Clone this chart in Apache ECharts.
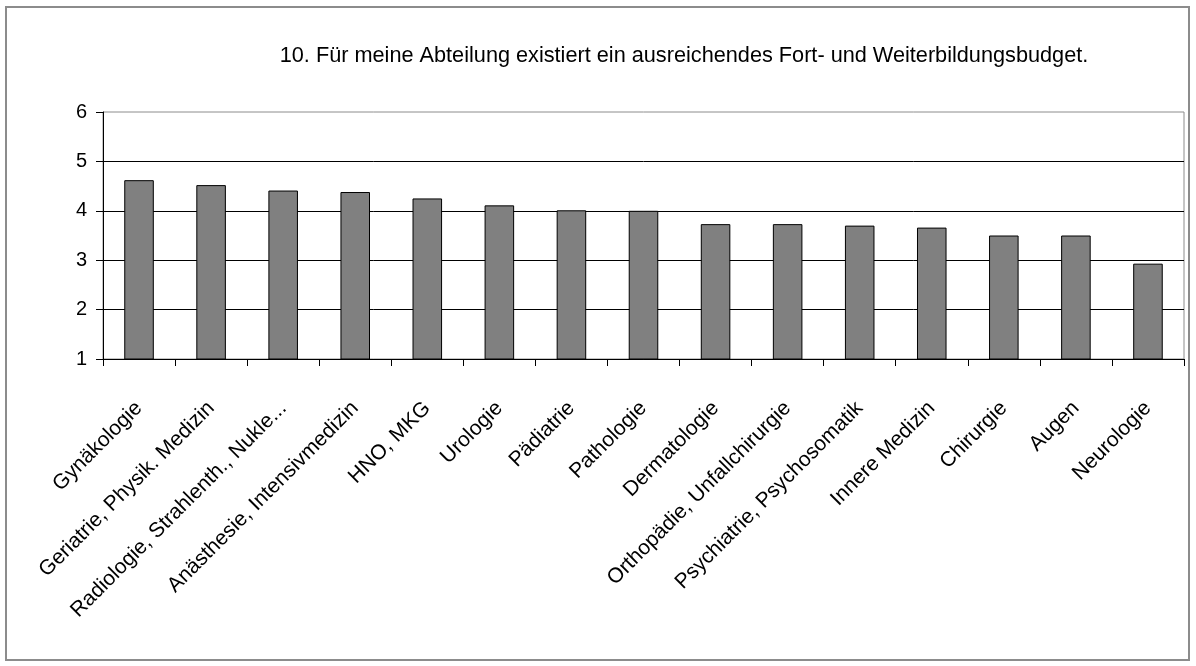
<!DOCTYPE html>
<html>
<head>
<meta charset="utf-8">
<script src="https://cdn.jsdelivr.net/npm/echarts@6/dist/echarts.min.js"></script>
<style>
    html, body { margin: 0; padding: 0; background: #fff; }
    #frame { position: absolute; left: 5px; top: 6px; width: 1181px; height: 651px; border: 2px solid #8c8c8c; }
    #chart { position: absolute; left: 0; top: 0; width: 1196px; height: 666px; }
</style>
</head>
<body>
<div id="frame"></div>
<div id="chart"></div>
<script>
var titleText = '10. Für meine Abteilung existiert ein ausreichendes Fort- und Weiterbildungsbudget.'
var categories = ['Gynäkologie', 'Geriatrie, Physik. Medizin', 'Radiologie, Strahlenth., Nukle...',
    'Anästhesie, Intensivmedizin', 'HNO, MKG', 'Urologie', 'Pädiatrie', 'Pathologie',
    'Dermatologie', 'Orthopädie, Unfallchirurgie', 'Psychiatrie, Psychosomatik',
    'Innere Medizin', 'Chirurgie', 'Augen', 'Neurologie']
var values = [4.62, 4.52, 4.41, 4.38, 4.25, 4.11, 4.01, 4.0, 3.73, 3.73, 3.70, 3.66, 3.50, 3.50, 2.93]

var option = {
    animation: false,
    textStyle: { fontFamily: 'Liberation Sans, Arial, sans-serif', color: '#000' },
    title: {
        text: titleText,
        left: 679,
        textAlign: 'center',
        top: 40,
        textStyle: { fontSize: 21.7, fontWeight: 'normal', color: '#000' }
    },
    grid: {
        left: 103, right: 12, top: 112, bottom: 307,
        show: true, borderColor: '#8c8c8c', borderWidth: 1
    },
    xAxis: {
        type: 'category',
        data: categories,
        axisLine: { lineStyle: { color: '#000', width: 1 } },
        axisTick: { show: true, length: 7, lineStyle: { color: '#000' } },
        axisLabel: { rotate: 45, interval: 0, fontSize: 21, color: '#000', margin: 46 }
    },
    yAxis: {
        type: 'value',
        min: 1, max: 6, interval: 1,
        axisLine: { show: true, lineStyle: { color: '#000', width: 1 } },
        axisTick: { show: true, length: 7, lineStyle: { color: '#000' } },
        axisLabel: { fontSize: 20, color: '#000', margin: 16 },
        splitLine: { showMaxLine: false, lineStyle: { color: '#000', width: 1 } }
    },
    series: [{
        type: 'bar',
        data: values,
        barWidth: '41%',
        itemStyle: { color: '#808080', borderColor: '#000', borderWidth: 1 }
    }]
}
echarts.init(document.getElementById('chart')).setOption(option)
</script>
</body>
</html>
